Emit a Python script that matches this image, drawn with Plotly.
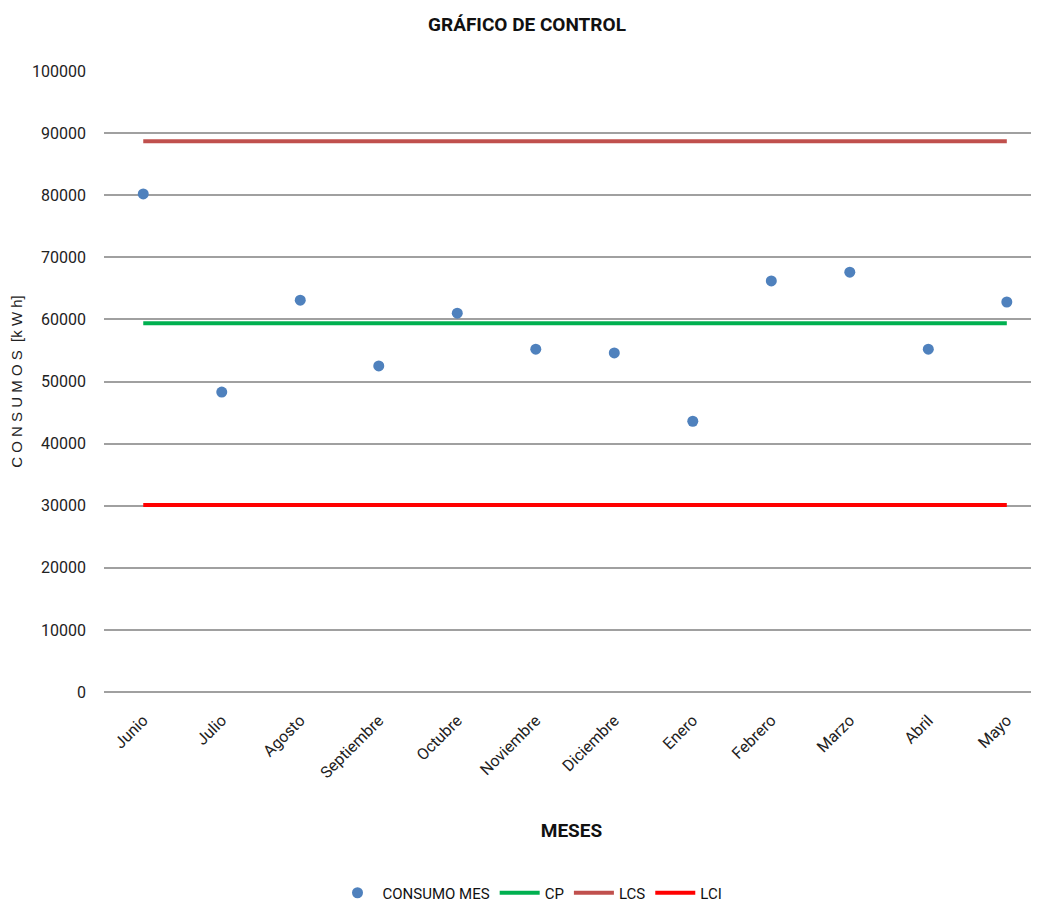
import plotly.graph_objects as go

meses = ["Junio", "Julio", "Agosto", "Septiembre", "Octubre", "Noviembre",
         "Diciembre", "Enero", "Febrero", "Marzo", "Abril", "Mayo"]
consumo = [80200, 48300, 63100, 52500, 61000, 55200, 54600, 43600, 66200, 67600, 55200, 62800]
cp_val = 59400
lcs_val = 88700
lci_val = 30100

cp = [cp_val] * len(meses)
lcs = [lcs_val] * len(meses)
lci = [lci_val] * len(meses)

xi = list(range(len(meses)))
FONT = "Liberation Sans Narrow, Roboto, sans-serif"
W, H = 1031, 899

fig = go.Figure()
fig.add_trace(go.Scatter(x=xi, y=consumo, mode="markers", name="CONSUMO MES",
                         marker=dict(color="#4F81BD", size=11)))
fig.add_trace(go.Scatter(x=xi, y=cp, mode="lines", name="CP",
                         line=dict(color="#00B050", width=4)))
fig.add_trace(go.Scatter(x=xi, y=lcs, mode="lines", name="LCS",
                         line=dict(color="#C0504D", width=4)))
fig.add_trace(go.Scatter(x=xi, y=lci, mode="lines", name="LCI",
                         line=dict(color="#FF0000", width=4)))

fig.update_layout(
    width=W, height=H,
    paper_bgcolor="white", plot_bgcolor="white",
    margin=dict(l=96, r=0, t=63, b=215),
    font=dict(family=FONT, size=15, color="#222"),
    title=dict(text="<b>GRÁFICO DE CONTROL</b>", x=519/W, xanchor="center",
               y=1-16/H, yanchor="middle", font=dict(size=19, family=FONT, color="#111")),
    showlegend=True,
    legend=dict(orientation="h", xref="container", yref="container",
                x=522/W, xanchor="center", y=1-885/H, yanchor="middle",
                font=dict(size=15, family=FONT, color="#111"), itemwidth=40,
                traceorder="normal"),
    xaxis=dict(
        tickmode="array", tickvals=xi, ticktext=meses, tickangle=-45,
        range=[-0.5, 11.41], showgrid=False, zeroline=False, showline=False,
        ticks="", ticklabelstandoff=15,
        tickfont=dict(size=16, family=FONT, color="#222"),
        title=dict(text="<b>MESES</b>", font=dict(size=19, family=FONT, color="#111"),
                   standoff=42),
    ),
    yaxis=dict(
        range=[0, 100000], dtick=10000, tickformat="d",
        showgrid=True, gridcolor="#A0A0A0", gridwidth=2,
        zeroline=True, zerolinecolor="#A0A0A0", zerolinewidth=2,
        showline=False, ticks="", ticklabelstandoff=17,
        tickfont=dict(size=16, family=FONT, color="#222"),
        title=dict(text="C O N S U M O S  [k W h]",
                   font=dict(size=15, family="Liberation Sans, Arial, sans-serif", color="#222"),
                   standoff=6),
    ),
)

fig.write_html("out.html")
